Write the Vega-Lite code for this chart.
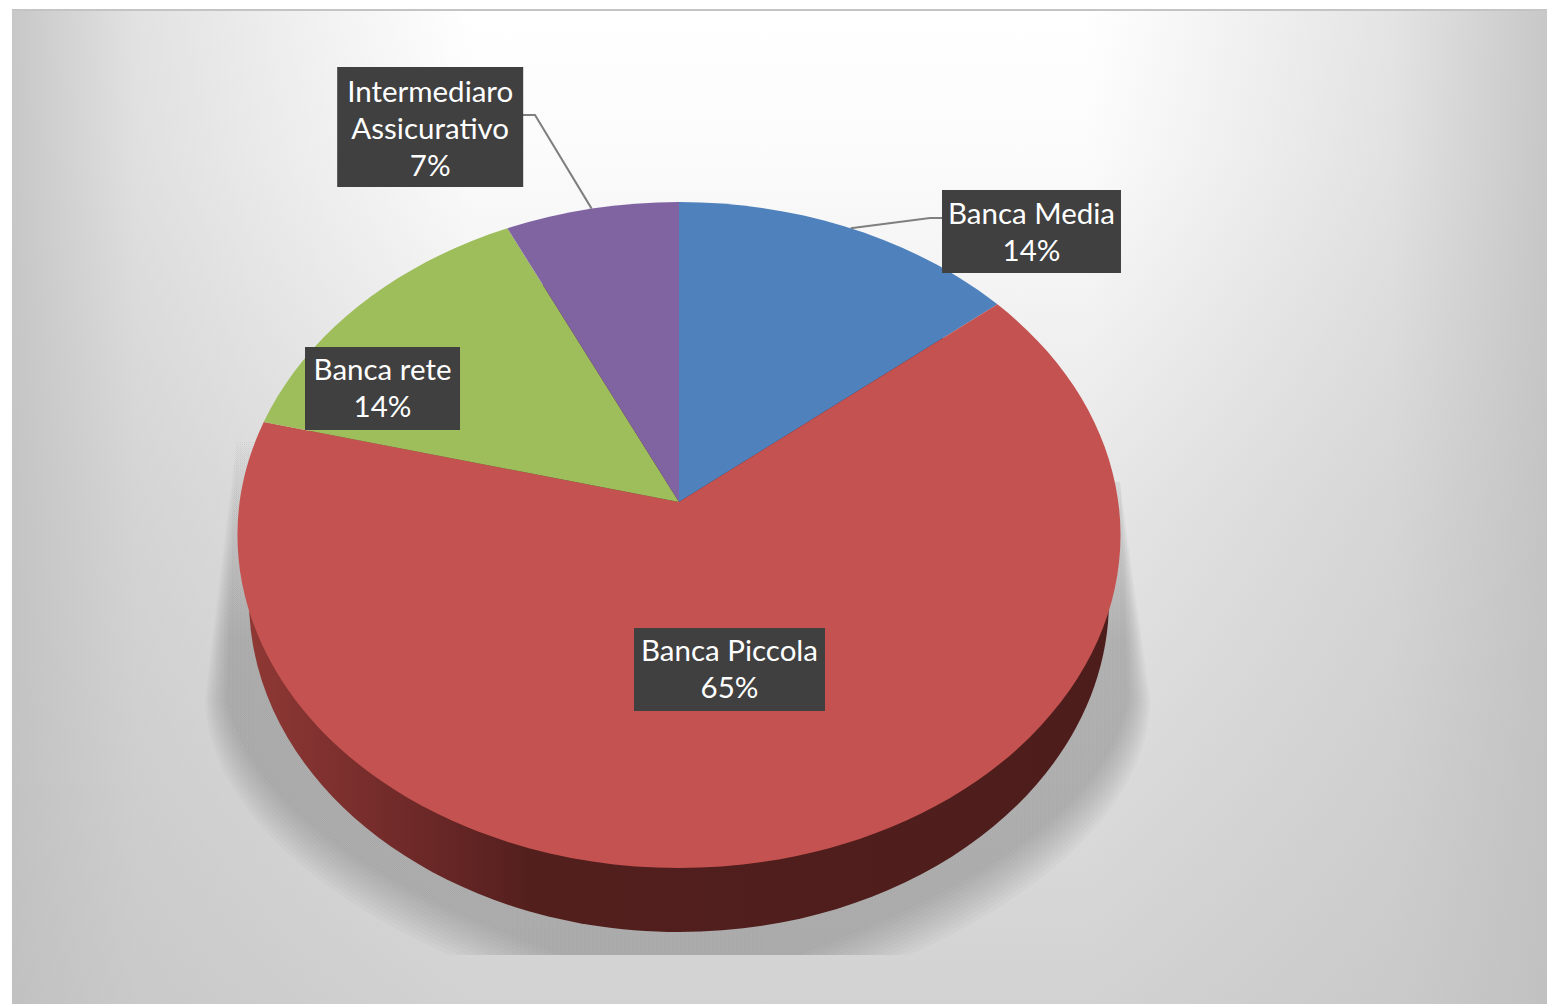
{
  "$schema": "https://vega.github.io/schema/vega-lite/v6.json",
  "width": 1547,
  "height": 1004,
  "padding": 0,
  "autosize": "none",
  "background": "#ffffff",
  "config": {"view": {"stroke": null}},
  "datasets": {
    "shares": [
      {"category": "Banca Media", "value": 14},
      {"category": "Banca Piccola", "value": 65},
      {"category": "Banca rete", "value": 14},
      {"category": "Intermediaro Assicurativo", "value": 7}
    ],
    "shadowSteps": [
      {"step": 0}, {"step": 1}, {"step": 2}, {"step": 3}, {"step": 4}, {"step": 5},
      {"step": 6}, {"step": 7}, {"step": 8}, {"step": 9}, {"step": 10}, {"step": 11}
    ]
  },
  "data": {"name": "shares"},
  "transform": [
    {"stack": "value", "groupby": [], "offset": "normalize", "as": ["s0", "s1"]},
    {"calculate": "2*PI*datum.s0", "as": "a0"},
    {"calculate": "2*PI*datum.s1", "as": "a1"},
    {"calculate": "(datum.a0+datum.a1)/2", "as": "am"},
    {"calculate": "round(439.3*sin(datum.a0)/(1+0.0991*cos(datum.a0))*100)/100", "as": "x0"},
    {"calculate": "round(-329.7*cos(datum.a0)/(1+0.0991*cos(datum.a0))*100)/100", "as": "y0"},
    {"calculate": "round(439.3*sin(datum.a1)/(1+0.0991*cos(datum.a1))*100)/100", "as": "x1"},
    {"calculate": "round(-329.7*cos(datum.a1)/(1+0.0991*cos(datum.a1))*100)/100", "as": "y1"},
    {"calculate": "round(439.3*sin(datum.am)/(1+0.0991*cos(datum.am))*100)/100", "as": "xm"},
    {"calculate": "round(-329.7*cos(datum.am)/(1+0.0991*cos(datum.am))*100)/100", "as": "ym"},
    {"calculate": "'M0,0L'+datum.x0+','+datum.y0+'A441.5,333,0,'+((datum.s1-datum.s0)>0.5?1:0)+',1,'+datum.x1+','+datum.y1+'Z'", "as": "slicePath"},
    {"calculate": "{'Banca Media':'251,-284L263,-284','Intermediaro Assicurativo':'-144,-387L-156,-387'}[datum.category]", "as": "elbow"},
    {"calculate": "'M'+datum.xm+','+datum.ym+'L'+datum.elbow", "as": "leaderPath"},
    {"calculate": "{'Banca Media':0.5957,'Banca Piccola':-0.1019,'Banca rete':-0.8471,'Intermediaro Assicurativo':-0.7742}[datum.category]", "as": "boxL"},
    {"calculate": "{'Banca Media':1.0011,'Banca Piccola':0.3307,'Banca rete':-0.496,'Intermediaro Assicurativo':-0.3529}[datum.category]", "as": "boxR"},
    {"calculate": "{'Banca Media':1.036,'Banca Piccola':-0.2793,'Banca rete':0.5646,'Intermediaro Assicurativo':1.4054}[datum.category]", "as": "boxT"},
    {"calculate": "{'Banca Media':0.7868,'Banca Piccola':-0.5285,'Banca rete':0.3153,'Intermediaro Assicurativo':1.045}[datum.category]", "as": "boxB"},
    {"calculate": "(datum.boxL+datum.boxR)/2", "as": "boxX"},
    {"calculate": "(datum.category=='Intermediaro Assicurativo'?'Intermediaro\\nAssicurativo':datum.category)+'\\n'+datum.value+'%'", "as": "caption"},
    {"calculate": "(datum.boxT+datum.boxB)/2+(datum.category=='Intermediaro Assicurativo'?34:17)/333", "as": "captionY"}
  ],
  "layer": [
    {
      "description": "Panel edge line",
      "transform": [{"filter": "datum.category=='Banca Media'"}],
      "mark": {"type": "rect", "color": "#c4c4c4"},
      "encoding": {
        "x": {"datum": -1.5108, "type": "quantitative", "axis": null, "scale": {"domain": [-1.53794, 1.96603], "nice": false, "zero": false}},
        "x2": {"datum": 1.96603},
        "y": {"datum": 1.5796, "type": "quantitative", "axis": null, "scale": {"domain": [-1.40841, 1.60661], "nice": false, "zero": false}},
        "y2": {"datum": -1.40841}
      }
    },
    {
      "description": "Panel background, vertical falloff",
      "transform": [{"filter": "datum.category=='Banca Media'"}],
      "mark": {"type": "rect", "color": {"gradient": "linear", "x1": 0, "y1": 0, "x2": 0, "y2": 1, "stops": [
        {"offset": 0, "color": "#ffffff"},
        {"offset": 0.15, "color": "#fbfbfb"},
        {"offset": 0.5, "color": "#e6e6e6"},
        {"offset": 1, "color": "#d2d2d2"}
      ]}},
      "encoding": {
        "x": {"datum": -1.5108, "type": "quantitative"},
        "x2": {"datum": 1.96603},
        "y": {"datum": 1.5736, "type": "quantitative"},
        "y2": {"datum": -1.40841}
      }
    },
    {
      "description": "Panel background, darkening at the sides",
      "transform": [{"filter": "datum.category=='Banca Media'"}],
      "mark": {"type": "rect", "color": {"gradient": "linear", "x1": 0, "y1": 0, "x2": 1, "y2": 0, "stops": [
        {"offset": 0, "color": "rgba(190,190,190,0.85)"},
        {"offset": 0.08, "color": "rgba(190,190,190,0.45)"},
        {"offset": 0.3, "color": "rgba(190,190,190,0)"},
        {"offset": 0.7, "color": "rgba(190,190,190,0)"},
        {"offset": 0.9, "color": "rgba(190,190,190,0.42)"},
        {"offset": 1, "color": "rgba(190,190,190,0.85)"}
      ]}},
      "encoding": {
        "x": {"datum": -1.5108, "type": "quantitative"},
        "x2": {"datum": 1.96603},
        "y": {"datum": 1.5736, "type": "quantitative"},
        "y2": {"datum": -1.40841}
      }
    },
    {
      "description": "Soft cast shadow built from stacked translucent steps",
      "data": {"name": "shadowSteps"},
      "transform": [
        {"calculate": "datum.step/11", "as": "t"},
        {"calculate": "'M-442,-70L'+(-474+22*datum.t)+',198C'+(-470+40*datum.t)+',300,'+(-370+55*datum.t)+','+(390-10*datum.t)+','+(-230+110*datum.t)+',453L'+(230-110*datum.t)+',453C'+(370-55*datum.t)+','+(390-10*datum.t)+','+(470-40*datum.t)+',300,'+(471-22*datum.t)+',198L441,-20Z'", "as": "shadowPath"}
      ],
      "mark": {"type": "point", "filled": true, "size": 4, "opacity": 1, "fill": {"gradient": "linear", "x1": 0, "y1": 0, "x2": 0, "y2": 1, "stops": [
        {"offset": 0, "color": "rgba(128,128,128,0)"},
        {"offset": 0.4, "color": "rgba(128,128,128,0.055)"},
        {"offset": 1, "color": "rgba(128,128,128,0.055)"}
      ]}},
      "encoding": {
        "x": {"datum": 0, "type": "quantitative"},
        "y": {"datum": 0.0991, "type": "quantitative"},
        "shape": {"field": "shadowPath", "type": "nominal", "scale": null, "legend": null}
      }
    },
    {
      "description": "Side wall of the disc",
      "transform": [{"filter": "datum.category=='Banca Piccola'"}],
      "mark": {"type": "point", "filled": true, "size": 4, "opacity": 1, "shape": "M-430,98A430,332,0,1,1,430,98A430,332,0,1,1,-430,98Z", "fill": {"gradient": "linear", "x1": 0, "y1": 0, "x2": 1, "y2": 0, "stops": [
        {"offset": 0, "color": "#8f3835"},
        {"offset": 0.207, "color": "#6b2827"},
        {"offset": 0.33, "color": "#521f1d"},
        {"offset": 1, "color": "#4d1d1c"}
      ]}},
      "encoding": {"x": {"datum": 0, "type": "quantitative"}, "y": {"datum": 0.0991, "type": "quantitative"}}
    },
    {
      "description": "Slices, one per row",
      "mark": {"type": "point", "filled": true, "size": 4, "opacity": 1},
      "encoding": {
        "x": {"datum": 0, "type": "quantitative"},
        "y": {"datum": 0.0991, "type": "quantitative"},
        "shape": {"field": "slicePath", "type": "nominal", "scale": null, "legend": null},
        "color": {"field": "category", "type": "nominal", "legend": null, "scale": {
          "domain": ["Banca Media", "Banca Piccola", "Banca rete", "Intermediaro Assicurativo"],
          "range": ["#4f81bd", "#c45250", "#9ebd5b", "#8064a2"]
        }}
      }
    },
    {
      "description": "Leader lines from outside labels to the slice rims",
      "transform": [{"filter": "datum.elbow"}],
      "mark": {"type": "point", "filled": false, "size": 4, "opacity": 1, "stroke": "#7f7f7f", "strokeWidth": 2},
      "encoding": {
        "x": {"datum": 0, "type": "quantitative"},
        "y": {"datum": 0.0991, "type": "quantitative"},
        "shape": {"field": "leaderPath", "type": "nominal", "scale": null, "legend": null}
      }
    },
    {
      "description": "Label boxes",
      "mark": {"type": "rect", "color": "#404040"},
      "encoding": {
        "x": {"field": "boxL", "type": "quantitative"},
        "x2": {"field": "boxR"},
        "y": {"field": "boxT", "type": "quantitative"},
        "y2": {"field": "boxB"}
      }
    },
    {
      "description": "Label text",
      "mark": {"type": "text", "color": "#ffffff", "font": "Lato", "fontSize": 29.5, "lineBreak": "\n", "lineHeight": 37, "align": "center", "baseline": "middle"},
      "encoding": {
        "x": {"field": "boxX", "type": "quantitative"},
        "y": {"field": "captionY", "type": "quantitative"},
        "text": {"field": "caption"}
      }
    }
  ]
}
